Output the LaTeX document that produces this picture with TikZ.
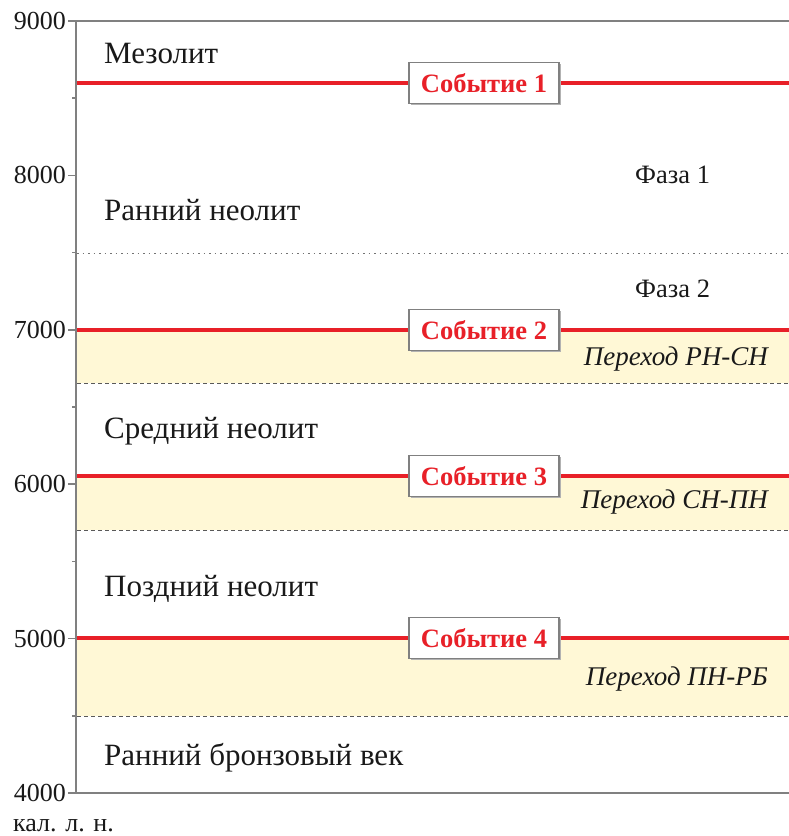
\documentclass[tikz,border=0pt]{standalone}
\usepackage{fontspec}
\setmainfont{Liberation Serif}
\usetikzlibrary{shadows}
\definecolor{evred}{RGB}{232,32,40}
\definecolor{axgray}{RGB}{128,128,128}
\definecolor{band}{RGB}{255,248,214}
\tikzset{
  period/.style={anchor=base west, font=\fontsize{31}{34}\selectfont, text=black!90, inner sep=0},
  phase/.style={anchor=base west, font=\fontsize{26.5}{30}\selectfont, text=black!90, inner sep=0},
  trans/.style={anchor=base east, font=\itshape\fontsize{27}{31}\selectfont, text=black!90, inner sep=0},
  tick label/.style={anchor=east, font=\fontsize{26}{30}\selectfont, text=black!90, inner sep=0},
  event/.style={draw=axgray, line width=1.2pt, fill=white, text=evred, font=\bfseries\fontsize{26.5}{30}\selectfont,
    minimum width=150pt, minimum height=41pt, inner sep=0,
    drop shadow={shadow xshift=1.5pt, shadow yshift=-1.5pt, fill=gray!60, opacity=1}},
  evline/.style={draw=evred, line width=3.2pt},
  axisline/.style={draw=axgray, line width=2pt},
  translim/.style={draw=black!65, line width=1pt, dash pattern=on 4pt off 3pt},
  phaselim/.style={draw=black!55, line width=0.8pt, dash pattern=on 1.5pt off 4pt},
}
\begin{document}
\begin{tikzpicture}[x=1pt,y=-1pt]
\useasboundingbox (0,0) rectangle (789,836);
% bands
\fill[band] (77,330) rectangle (789,383);
\fill[band] (77,476) rectangle (789,530);
\fill[band] (77,638) rectangle (789,716);
% limits
\draw[translim] (77,383) -- (789,383);
\draw[translim] (77,530) -- (789,530);
\draw[translim] (77,716) -- (789,716);
\draw[phaselim] (77,253) -- (789,253);
% frame lines
\draw[axisline] (76,21) -- (789,21);
\draw[axisline] (76,793) -- (789,793);
\draw[axisline] (76,21) -- (76,793);
% ticks
\foreach \yv/\lab in {21/9000,175.4/8000,329.8/7000,484.2/6000,638.6/5000,793/4000}{
  \draw[axgray, line width=1.5pt] (68,\yv) -- (76,\yv);
  \node[tick label] (t\lab) at (66,\yv) {\lab};
}
\foreach \yv in {98.2,252.6,407,561.4,715.8}{
  \draw[axgray, line width=1.5pt] (72,\yv) -- (76,\yv);
}
\node[anchor=base west, font=\fontsize{26}{30}\selectfont, text=black!90, inner sep=0] (unit) at (13,831) {кал. л. н.};
% event lines
\draw[evline] (77,83) -- (789,83);
\draw[evline] (77,330) -- (789,330);
\draw[evline] (77,476) -- (789,476);
\draw[evline] (77,638) -- (789,638);
\node[event] (e1) at (484,83) {Событие 1};
\node[event] (e2) at (484,330) {Событие 2};
\node[event] (e3) at (484,476) {Событие 3};
\node[event] (e4) at (484,638) {Событие 4};
% period labels
\node[period] (meso) at (104,63) {Мезолит};
\node[period] (en) at (104,220) {Ранний неолит};
\node[period] (mn) at (104,438) {Средний неолит};
\node[period] (ln) at (104,596) {Поздний неолит};
\node[period] (eba) at (104,765) {Ранний бронзовый век};
\node[phase] (ph1) at (635,183) {Фаза 1};
\node[phase] (ph2) at (635,297) {Фаза 2};
\node[trans] (tr1) at (768,365) {Переход РН-СН};
\node[trans] (tr2) at (768,508) {Переход СН-ПН};
\node[trans] (tr3) at (768,685) {Переход ПН-РБ};
\end{tikzpicture}
\end{document}
